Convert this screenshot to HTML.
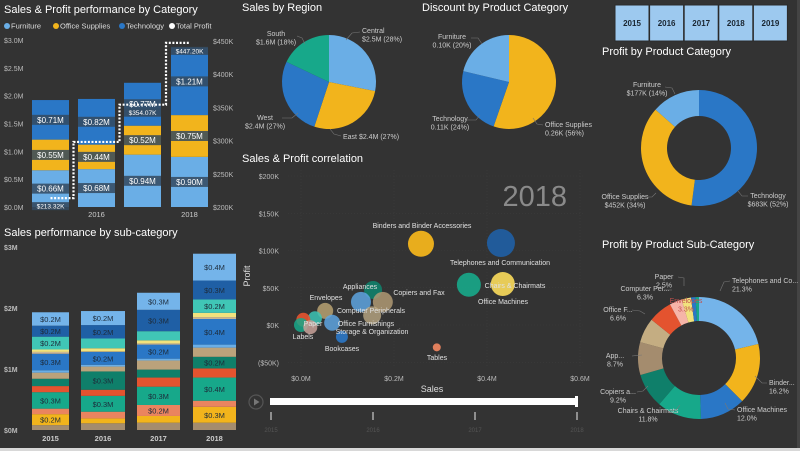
<!DOCTYPE html>
<html><head><meta charset="utf-8"><style>
html,body{margin:0;padding:0;background:#333;}
svg{display:block;font-family:"Liberation Sans",sans-serif;}
</style></head><body>
<svg id="dash" width="800" height="451" viewBox="0 0 800 451" xmlns="http://www.w3.org/2000/svg">
<rect x="0" y="0" width="800" height="451" fill="#333333"/>
<rect x="0" y="448" width="800" height="3" fill="#d8d8d8"/>
<rect x="797" y="0" width="3" height="448" fill="#444"/>

<text x="4" y="13" fill="#fff" font-size="11">Sales &amp; Profit performance by Category</text>
<g font-size="7.5" fill="#ddd">
<circle cx="7" cy="26" r="3" fill="#6aaee6"/><text x="11" y="28.5">Furniture</text>
<circle cx="56" cy="26" r="3" fill="#f2b41c"/><text x="60" y="28.5">Office Supplies</text>
<circle cx="122" cy="26" r="3" fill="#2a77c6"/><text x="126" y="28.5">Technology</text>
<circle cx="172" cy="26" r="3" fill="#fff"/><text x="176" y="28.5">Total Profit</text>
</g>
<g id="p1"></g>

<text x="4" y="236" fill="#fff" font-size="11">Sales performance by sub-category</text>
<g id="p2"></g>

<text x="242" y="11" fill="#fff" font-size="11">Sales by Region</text>
<g id="p3"></g>
<text x="422" y="11" fill="#fff" font-size="11">Discount by Product Category</text>
<g id="p4"></g>

<g id="slicer"></g>
<text x="602" y="55" fill="#fff" font-size="11">Profit by Product Category</text>
<g id="p5"></g>
<text x="602" y="248" fill="#fff" font-size="11">Profit by Product Sub-Category</text>
<g id="p6"></g>

<text x="242" y="162" fill="#fff" font-size="11">Sales &amp; Profit correlation</text>
<text x="567" y="206" fill="#8a8a8a" font-size="29" text-anchor="end">2018</text>
<g id="p7"></g>
<text x="250" y="276" fill="#ddd" font-size="9" transform="rotate(-90 250 276)" text-anchor="middle">Profit</text>
<text x="432" y="392" fill="#ddd" font-size="9" text-anchor="middle">Sales</text>
<g>
<circle cx="256" cy="402" r="7" fill="none" stroke="#555" stroke-width="1.2"/>
<path d="M254,398.5 L259.5,402 L254,405.5 Z" fill="#777"/>
<rect x="270" y="398" width="306" height="7" fill="#fff"/>
<rect x="575" y="396" width="3" height="11" fill="#fff"/>
<g id="tl" font-size="6" fill="#555" text-anchor="middle"></g>
</g>

<script>
// ---------- data ----------
var catYears = ['2015','2016','2017','2018'];
var furnitureSales = [0.66,0.68,0.94,0.90];
var officeSales = [0.55,0.44,0.52,0.75];
var techSales = [0.71,0.82,0.77,1.21];
var totalProfit = [213.32,298.0,354.07,447.20];
var leftTicks = ['$0.0M','$0.5M','$1.0M','$1.5M','$2.0M','$2.5M','$3.0M'];
var rightTicks = ['$200K','$250K','$300K','$350K','$400K','$450K'];

var subYears = ['2015','2016','2017','2018'];
var subColors = ['#a48c6e','#f2b41c','#ea845f','#17a88a','#e4532f','#0f7f6a','#bba27b','#6aaee6','#2a77c6','#cdb893','#f1e27d','#40c6b6','#1f5fa5','#74b4ea'];
var subValues = [
 [0.08,0.11,0.12,0.12],[0.18,0.08,0.11,0.26],[0.09,0.11,0.18,0.10],[0.27,0.26,0.30,0.38],
 [0.10,0.10,0.15,0.15],[0.12,0.30,0.13,0.19],[0.10,0.08,0.15,0.15],[0.04,0.03,0.03,0.05],
 [0.27,0.21,0.23,0.42],[0.03,0.01,0.02,0.03],[0.04,0.05,0.05,0.07],[0.21,0.16,0.15,0.22],
 [0.18,0.22,0.35,0.31],[0.22,0.23,0.28,0.44]];
var subTicks = ['$0M','$1M','$2M','$3M'];

var regions = ['Central','East','West','South'];
var regionSales = [2.5,2.4,2.4,1.6];
var regionPct = [28,27,27,18];
var discCats = ['Office Supplies','Technology','Furniture'];
var discVals = [0.26,0.11,0.10];
var discPct = [56,24,20];
var profCats = ['Technology','Office Supplies','Furniture'];
var profVals = [683,452,177];
var profPct = [52,34,14];
var subProfNames = ['Telephones and Co...','Binder...','Office Machines','Chairs & Chairmats','Copiers a...','App...','Office F...','Computer Per...','Envelopes','Paper','Other A','Other B'];
var subProfPct = [21.3,16.2,12.0,11.8,9.2,8.7,6.6,6.3,3.3,2.5,1.2,0.9];

var scNames = ['Binders and Binder Accessories','Telephones and Communication','Office Machines','Chairs & Chairmats','Appliances','Copiers and Fax','Computer Peripherals','Office Furnishings','Envelopes','Paper','Rubber Bands','Labels','Pens & Art Supplies','Storage & Organization','Bookcases','Tables'];
var scSales = [0.258,0.430,0.361,0.434,0.155,0.176,0.129,0.153,0.052,0.030,0.005,0.000,0.020,0.067,0.088,0.292];
var scProfit = [109,110,54,55,47,31,31,13,19,9,7,0,-3,3,-16,-30];
var scSize = [13,14,12,12,9,10,10,9,8,7,7,7,7,8,6,4];
var scXTicks = ['$0.0M','$0.2M','$0.4M','$0.6M'];
var scYTicks = ['($50K)','$0K','$50K','$100K','$150K','$200K'];
var slicerYears = ['2015','2016','2017','2018','2019'];

// ---------- helpers ----------
var NS='http://www.w3.org/2000/svg';
function mk(parent,tag,attrs,txt){var e=document.createElementNS(NS,tag);for(var k in attrs)e.setAttribute(k,attrs[k]);if(txt!==undefined)e.textContent=txt;parent.appendChild(e);return e;}
function pt(cx,cy,r,a){return [cx+r*Math.sin(a),cy-r*Math.cos(a)];}
function arcPath(cx,cy,r0,r1,a0,a1){
 var la=(a1-a0)>Math.PI?1:0;var p1=pt(cx,cy,r1,a0),p2=pt(cx,cy,r1,a1);
 if(r0<=0)return 'M'+cx+','+cy+' L'+p1+' A'+r1+','+r1+' 0 '+la+' 1 '+p2+' Z';
 var p3=pt(cx,cy,r0,a1),p4=pt(cx,cy,r0,a0);
 return 'M'+p1+' A'+r1+','+r1+' 0 '+la+' 1 '+p2+' L'+p3+' A'+r0+','+r0+' 0 '+la+' 0 '+p4+' Z';}
function sum(a){return a.reduce(function(s,v){return s+v;},0);}

// ---------- panel 1 ----------
(function(){
 var g=document.getElementById('p1');
 var y0=207,pxM=55.7; function y(v){return y0-v*pxM;}
 function yr(v){return 207-(v-200)*0.664;}
 var bx=[32,78,124,171],bw=37;
 leftTicks.forEach(function(t,i){var e=mk(g,'text',{x:4,y:y(i*0.5)+3,fill:'#bbb','font-size':7},t);
  });
 rightTicks.forEach(function(t,i){var e=mk(g,'text',{x:213,y:yr(200+i*50)+3,fill:'#bbb','font-size':7},t);
  });
 var series=[furnitureSales,officeSales,techSales],cols=['#6aaee6','#f2b41c','#2a77c6'],nm=['furniture','office-supplies','technology'];
 catYears.forEach(function(yrL,i){
  var base=0;
  series.forEach(function(s,k){
   var v=s[i];var r=mk(g,'rect',{x:bx[i],y:y(base+v),width:bw,height:v*pxM,fill:cols[k]});
   
   var cy=y(base+v/2);
   var lb=mk(g,'rect',{x:bx[i],y:cy-5,width:bw,height:10,fill:'#34495e','fill-opacity':0.85});
   
   var t=mk(g,'text',{x:bx[i]+bw/2,y:cy+3,fill:'#fff','font-size':8,'text-anchor':'middle'},'$'+v.toFixed(2)+'M');
   
   base+=v;});
  if(i%2==1){var xl=mk(g,'text',{x:bx[i]+bw/2,y:217,fill:'#ccc','font-size':7.5,'text-anchor':'middle'},yrL);
   }
 });
 var d='';
 totalProfit.forEach(function(v,i){
  var xa=i==0?bx[0]+bw/2:(bx[i-1]+bw+bx[i])/2, xb=i==totalProfit.length-1?bx[i]+bw/2:(bx[i]+bw+bx[i+1])/2;
  d+=(i==0?'M':'L')+xa+','+yr(v)+' L'+xb+','+yr(v)+' ';});
 var pl=mk(g,'path',{d:d,fill:'none',stroke:'#fff','stroke-width':2.2,'stroke-dasharray':'2,1.6'});
 
 totalProfit.forEach(function(v,i){ if(i==1)return;
  var cx=bx[i]+bw/2,cy=yr(v)+8;
  var b=mk(g,'rect',{x:bx[i],y:cy-4,width:bw,height:8,fill:'#34495e','fill-opacity':0.9});
  
  var t=mk(g,'text',{x:cx,y:cy+2.5,fill:'#fff','font-size':6.5,'text-anchor':'middle'},'$'+v.toFixed(2)+'K');
  });
})();

// ---------- panel 2 ----------
(function(){
 var g=document.getElementById('p2');
 var y0=430,pxM=61;function y(v){return y0-v*pxM;}
 var bx=[32,81,137,193],bw=[37,44,43,43];
 subTicks.forEach(function(t,i){var e=mk(g,'text',{x:4,y:y(i)+3,fill:'#bbb','font-size':7,'font-weight':'bold'},t);
  });
 subYears.forEach(function(yrL,i){
  var base=0;
  subValues.forEach(function(s,k){
   var v=s[i];var r=mk(g,'rect',{x:bx[i],y:y(base+v),width:bw[i],height:v*pxM,fill:subColors[k]});
   
   if(v>=0.17){var t=mk(g,'text',{x:bx[i]+bw[i]/2,y:y(base+v/2)+3,fill:'#1d2b3a','font-size':7.5,'text-anchor':'middle'},'$'+v.toFixed(1)+'M');
    }
   base+=v;});
  var xl=mk(g,'text',{x:bx[i]+bw[i]/2,y:441,fill:'#ccc','font-size':7.5,'font-weight':'bold','text-anchor':'middle'},yrL);
  
 });
})();

// ---------- pies ----------
function pie(g,cx,cy,r0,r1,vals,cols,names){
 var tot=sum(vals),a=0;
 vals.forEach(function(v,i){var a1=a+v/tot*2*Math.PI;
  var p=mk(g,'path',{d:arcPath(cx,cy,r0,r1,a,a1),fill:cols[i]});
  a=a1;});}
function lbl(g,x,y,lines,anchor,col,name){
 lines.forEach(function(l,i){var t=mk(g,'text',{x:x,y:y+i*8.5,fill:col||'#ccc','font-size':7,'text-anchor':anchor||'start'},l);
  });}
function lead(g,d){var p=mk(g,'path',{d:d,fill:'none',stroke:'#777','stroke-width':0.6});
 }

(function(){
 var g=document.getElementById('p3');
 pie(g,329,82,0,47,regionSales,['#6aaee6','#f2b41c','#2a77c6','#17a88a'],['central','east','west','south']);
 lbl(g,362,33,[regions[0],'$'+regionSales[0]+'M ('+regionPct[0]+'%)'],'start','#ccc','label-central');
 lead(g,'M360,32 L352,33 L346,40');
 lbl(g,343,139,[regions[1]+' $'+regionSales[1]+'M ('+regionPct[1]+'%)'],'start','#ccc','label-east');
 lead(g,'M341,136 L334,134 L330,129');
 lbl(g,265,120,[regions[2],'$'+regionSales[2]+'M ('+regionPct[2]+'%)'],'middle','#ccc','label-west');
 lead(g,'M282,118 L292,118 L298,113');
 lbl(g,276,36,[regions[3],'$'+regionSales[3]+'M ('+regionPct[3]+'%)'],'middle','#ccc','label-south');
 lead(g,'M297,36 L302,38 L305,44');
})();
(function(){
 var g=document.getElementById('p4');
 pie(g,509,82,0,47,discVals,['#f2b41c','#2a77c6','#6aaee6'],['office-supplies','technology','furniture']);
 lbl(g,545,127,[discCats[0],discVals[0].toFixed(2)+'K ('+discPct[0]+'%)'],'start','#ccc','label-office-supplies');
 lead(g,'M543,125 L537,124 L533,118');
 lbl(g,450,121,[discCats[1],discVals[1].toFixed(2)+'K ('+discPct[1]+'%)'],'middle','#ccc','label-technology');
 lead(g,'M467,120 L476,120 L480,115');
 lbl(g,452,39,[discCats[2],discVals[2].toFixed(2)+'K ('+discPct[2]+'%)'],'middle','#ccc','label-furniture');
 lead(g,'M471,38 L478,38 L482,44');
})();
(function(){
 var g=document.getElementById('p5');
 pie(g,699,148,32,58,profVals,['#2a77c6','#f2b41c','#6aaee6'],['technology','office-supplies','furniture']);
 lbl(g,768,198,[profCats[0],'$'+profVals[0]+'K ('+profPct[0]+'%)'],'middle','#ccc','label-technology');
 lead(g,'M748,196 L742,196 L738,191');
 lbl(g,625,199,[profCats[1],'$'+profVals[1]+'K ('+profPct[1]+'%)'],'middle','#ccc','label-office-supplies');
 lead(g,'M645,197 L652,197 L656,193');
 lbl(g,647,87,[profCats[2],'$'+profVals[2]+'K ('+profPct[2]+'%)'],'middle','#ccc','label-furniture');
 lead(g,'M665,87 L672,88 L675,94');
})();
(function(){
 var g=document.getElementById('p6');
 var cols=['#74b4ea','#f2b41c','#2a77c6','#17a88a','#0f7f6a','#a48c6e','#c4ad82','#e4532f','#f6b5a8','#f1e27d','#2a77c6','#17a88a'];
 pie(g,699,358,37,61,subProfPct,cols,['telephones','binders','office-machines','chairs','copiers','appliances','office-furnishings','computer-peripherals','envelopes','paper','other-a','other-b']);
 var L=[[732,283,'start'],[769,385,'start'],[737,412,'start'],[648,413,'middle'],[618,394,'middle'],[615,358,'middle'],[618,312,'middle'],[645,291,'middle'],[686,303,'middle'],[664,279,'middle']];
 L.forEach(function(p,i){var col=i==8?'#c0504d':'#ccc';
  lbl(g,p[0],p[1],[subProfNames[i],subProfPct[i].toFixed(1)+'%'],p[2],col,'label-subcategory-'+i);});
 lead(g,'M730,281 L724,282 L720,291');lead(g,'M767,383 L762,383 L755,376');
 lead(g,'M735,410 L728,409 L725,403');lead(g,'M670,411 L676,410 L680,405');
 lead(g,'M637,392 L643,391 L648,386');lead(g,'M632,356 L642,355');
 lead(g,'M632,310 L640,311 L645,314');lead(g,'M664,290 L672,290');lead(g,'M678,277 L684,278 L684,286');
})();

// ---------- slicer ----------
(function(){
 var g=document.getElementById('slicer');
 slicerYears.forEach(function(yv,i){
  var x=615+i*34.6;
  var r=mk(g,'rect',{x:x,y:5,width:34,height:36,fill:'#9dc9ef',stroke:'#2b2b2b','stroke-width':1});
  
  var t=mk(g,'text',{x:x+17,y:26,fill:'#1a2530','font-size':8,'font-weight':'bold','text-anchor':'middle'},yv);
  });
})();

// ---------- scatter ----------
(function(){
 var g=document.getElementById('p7');
 function x(v){return 301+v*465;} function y(v){return 325-v*0.745;}
 scYTicks.forEach(function(t,i){var v=-50+i*50;
  var gl=mk(g,'line',{x1:288,x2:585,y1:y(v),y2:y(v),stroke:'#3d3d3d','stroke-width':0.6,'stroke-dasharray':'1,2'});
  
  var e=mk(g,'text',{x:279,y:y(v)+3,fill:'#bbb','font-size':7,'text-anchor':'end'},t);
  });
 scXTicks.forEach(function(t,i){
  var gl=mk(g,'line',{x1:x(i*0.2),x2:x(i*0.2),y1:170,y2:368,stroke:'#3d3d3d','stroke-width':0.6,'stroke-dasharray':'1,2'});
  
  var e=mk(g,'text',{x:x(i*0.2),y:381,fill:'#bbb','font-size':7,'text-anchor':'middle'},t);
  });
 var cols=['#f2b41c','#1f5fa5','#17a88a','#f1d45a','#11806a','#b09a74','#5ea5e0','#c4b08a','#b8a272','#3cc6b6','#e4532f','#17a88a','#c9a29a','#5ea5e0','#2a77c6','#ea845f'];
 var op=[0.95,0.9,0.9,0.95,0.9,0.85,0.85,0.75,0.85,0.85,0.9,0.85,0.85,0.85,0.9,0.95];
 scNames.forEach(function(n,i){
  var c=mk(g,'circle',{cx:x(scSales[i]),cy:y(scProfit[i]),r:scSize[i],fill:cols[i],'fill-opacity':op[i]});
  });
 var LP=[[422,228,0],[500,265,1],[503,304,2],[515,288,3],[360,289,4],[419,295,5],[371,313,6],[366,326,7],[326,300,8],[313,326,9],[303,339,11],[372,334,13],[342,351,14],[437,360,15]];
 LP.forEach(function(p){var t=mk(g,'text',{x:p[0],y:p[1],fill:'#e0e0e0','font-size':7,'text-anchor':'middle'},scNames[p[2]]);
  });
 var tl=document.getElementById('tl');
 slicerYears.slice(0,4).forEach(function(yv,i){var xx=271+i*102;
  var tk=mk(tl,'rect',{x:xx-0.6,y:412,width:1.2,height:8,fill:'#ccc'});
  
  var t=mk(tl,'text',{x:xx,y:432},yv);
  });
})();
</script>
</svg>
</body></html>
